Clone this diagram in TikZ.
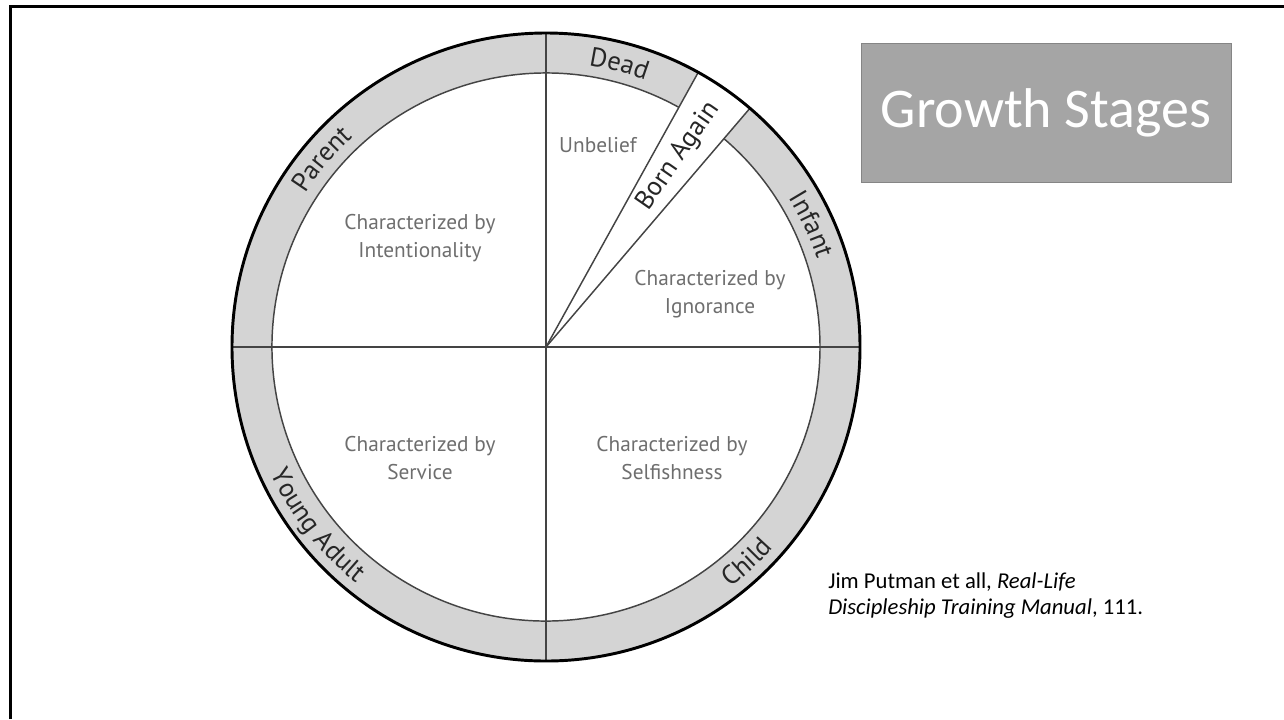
\documentclass[tikz,border=0pt]{standalone}
\usepackage{fontspec}
\setmainfont{PT Sans}
\newfontfamily\calibri{Carlito}
\usetikzlibrary{decorations.text}

\definecolor{ringgray}{HTML}{D4D4D4}
\definecolor{linegray}{HTML}{444444}
\definecolor{textgray}{HTML}{6E6E6E}
\definecolor{boxgray}{HTML}{A5A5A5}
\definecolor{boxedge}{HTML}{858585}

\newcommand\ringfont{\fontsize{20}{24}\selectfont\color{black!85}}

\tikzset{
  wheelline/.style={draw=linegray, line width=1.1pt},
  rimline/.style={draw=black, line width=2.2pt},
  stagetext/.style={text=textgray, font=\fontsize{16}{21}\selectfont, align=center},
  ringarc/.style={decorate, decoration={text along path, text align=center, text={|\ringfont|#1}}},
  citetext/.style={font=\calibri\fontsize{17}{20}\selectfont, anchor=base west, inner sep=0pt},
}

\begin{document}
\begin{tikzpicture}[x=0.75pt,y=0.75pt,yscale=-1,xscale=1]
\useasboundingbox (0,0) rectangle (1284,719);

%Slide frame
\draw[line width=2.25pt] (10.5,719) -- (10.5,6.5) -- (1284,6.5);

%Wheel
\begin{scope}[shift={(546,347)},yscale=-1]
\coordinate (hub) at (0,0);

%Ring and Born Again wedge
\fill[ringgray, even odd rule] (hub) circle[radius=314] (hub) circle[radius=274];
\fill[white] (hub) -- (49.5:314) arc[start angle=49.5, end angle=61, radius=314] -- cycle;
\draw[wheelline] (61:274) arc[start angle=61, end angle=409.5, radius=274];

%Quarter lines
\draw[wheelline] (180:314) -- (0:314);
\draw[wheelline] (90:314) -- (270:314);
\draw[wheelline] (hub) -- (49.5:314);
\draw[wheelline] (hub) -- (61:314);

%Rim
\draw[rimline] (hub) circle[radius=314];

%Ring labels
\path[ringarc=Dead] (95.5:285) arc[start angle=95.5, end angle=55.5, radius=285];
\path[ringarc=Infant] (44.75:285) arc[start angle=44.75, end angle=4.75, radius=285];
\path[ringarc=Parent] (160:285) arc[start angle=160, end angle=120, radius=285];
\path[ringarc=Child] (-72:303) arc[start angle=-72, end angle=-22, radius=303];
\path[ringarc=Young Adult] (188:303) arc[start angle=188, end angle=248, radius=303];
\node[rotate=55.25, font=\ringfont, inner sep=0pt] (born) at (55.25:232) {Born Again};
\end{scope}

%Stage texts
\node[stagetext] (unbelief) at (598,145) {Unbelief};
\node[stagetext] (intention) at (420,238) {Characterized by\\Intentionality};
\node[stagetext] (ignorance) at (710,294) {Characterized by\\Ignorance};
\node[stagetext] (service) at (420,458) {Characterized by\\Service};
\node[stagetext] (selfish) at (672,458) {Characterized by\\Selfishness};

%Title box
\node[fill=boxgray, draw=boxedge, line width=0.6pt, minimum width=277.5pt, minimum height=104.25pt,
      text=white, font=\calibri\fontsize{42}{50}\selectfont] (title) at (1046,112.5) {Growth Stages};

%Source
\node[citetext] (cite1) at (828,588) {Jim Putman et all, \textit{Real-Life}};
\node[citetext] (cite2) at (828,614) {\textit{Discipleship Training Manual}, 111.};

\end{tikzpicture}
\end{document}
